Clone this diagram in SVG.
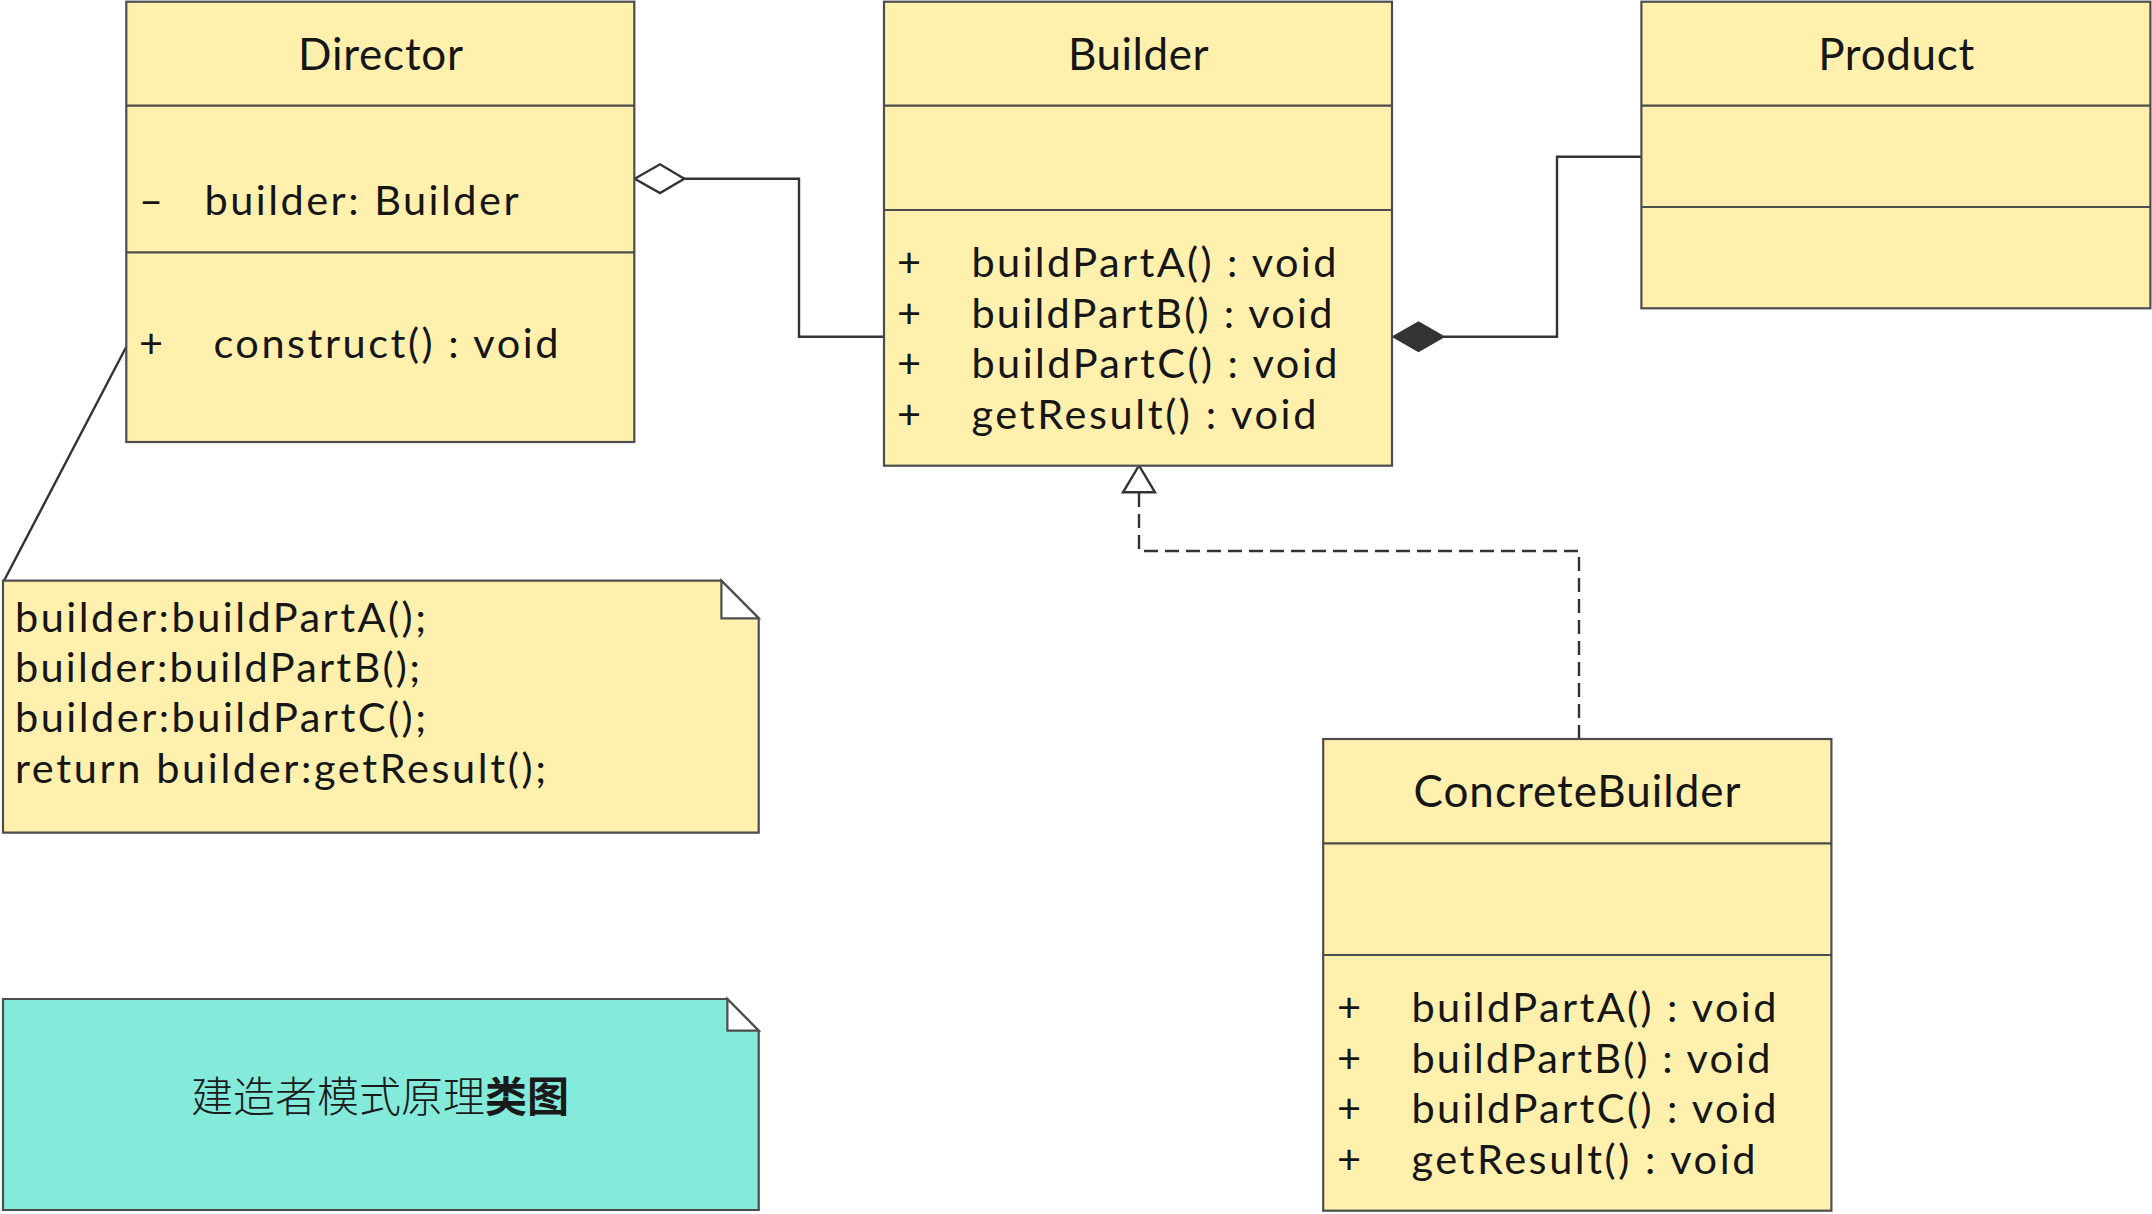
<svg xmlns="http://www.w3.org/2000/svg" width="2152" height="1214" viewBox="0 0 2152 1214">
<style>
.box{fill:#FFF1AD;stroke:#4d4d4d;stroke-width:2.2}
.div{stroke:#4d4d4d;stroke-width:2.2;fill:none}
.t{font-family:Lato,"Open Sans","DejaVu Sans",sans-serif;font-size:41.5px;fill:#161616}
.title{font-size:44px;text-anchor:middle}
.ln{fill:none;stroke:#333333;stroke-width:2.4}
.dash{stroke-dasharray:14 7}
.cjk{font-family:"Noto Sans CJK SC","Noto Sans",sans-serif;font-size:42px;fill:#1a1a1a}
</style>
<rect width="2152" height="1214" fill="#ffffff"/>
<g id="connectors">
  <polyline class="ln" points="684,178.7 799,178.7 799,336.7 884,336.7"/>
  <polygon class="ln" fill="#ffffff" points="634.7,178.7 660,164.3 684.3,178.7 660,193"/>
  <polyline class="ln" points="1444,336.7 1557,336.7 1557,156.7 1641,156.7"/>
  <polygon fill="#333333" stroke="#333333" stroke-width="1.5" points="1393,336.7 1418.5,322 1444,336.7 1418.5,351.5"/>
  <polyline class="ln dash" points="1579,739 1579,551 1139,551 1139,492.3"/>
  <polygon class="ln" fill="#ffffff" points="1139,465.5 1155,492.3 1123,492.3"/>
  <line class="ln" x1="126.3" y1="346.7" x2="4" y2="580.7" stroke-width="2"/>
</g>
<g id="director">
  <rect class="box" x="126.3" y="1.7" width="508" height="440.3"/>
  <line class="div" x1="126.3" y1="105.7" x2="634.3" y2="105.7"/>
  <line class="div" x1="126.3" y1="252.3" x2="634.3" y2="252.3"/>
  <text class="t title" x="380.6" y="70" textLength="165" lengthAdjust="spacing">Director</text>
  <text class="t" x="139" y="215">–</text>
  <text class="t" x="204.5" y="215" textLength="314" lengthAdjust="spacing">builder: Builder</text>
  <text class="t" x="139" y="358">+</text>
  <text class="t" x="213.4" y="358" textLength="345" lengthAdjust="spacing">construct() : void</text>
</g>
<g id="builder">
  <rect class="box" x="884" y="1.7" width="508" height="464"/>
  <line class="div" x1="884" y1="105.7" x2="1392" y2="105.7"/>
  <line class="div" x1="884" y1="210" x2="1392" y2="210"/>
  <text class="t title" x="1138.2" y="70" textLength="140.6" lengthAdjust="spacing">Builder</text>
  <text class="t" x="897" y="277">+</text>
  <text class="t" x="971.4" y="277" textLength="365" lengthAdjust="spacing">buildPartA() : void</text>
  <text class="t" x="897" y="327.5">+</text>
  <text class="t" x="971.4" y="327.5" textLength="361" lengthAdjust="spacing">buildPartB() : void</text>
  <text class="t" x="897" y="378">+</text>
  <text class="t" x="971.4" y="378" textLength="366" lengthAdjust="spacing">buildPartC() : void</text>
  <text class="t" x="897" y="428.5">+</text>
  <text class="t" x="971.4" y="428.5" textLength="345" lengthAdjust="spacing">getResult() : void</text>
</g>
<g id="product">
  <rect class="box" x="1641.4" y="1.7" width="509" height="306.6"/>
  <line class="div" x1="1641.4" y1="105.7" x2="2150.4" y2="105.7"/>
  <line class="div" x1="1641.4" y1="207" x2="2150.4" y2="207"/>
  <text class="t title" x="1896.2" y="70" textLength="156" lengthAdjust="spacing">Product</text>
</g>
<g id="concretebuilder">
  <rect class="box" x="1323.2" y="739" width="508.2" height="471.7"/>
  <line class="div" x1="1323.2" y1="843.3" x2="1831.4" y2="843.3"/>
  <line class="div" x1="1323.2" y1="955" x2="1831.4" y2="955"/>
  <text class="t title" x="1577" y="807" textLength="327" lengthAdjust="spacing">ConcreteBuilder</text>
  <text class="t" x="1337" y="1021.7">+</text>
  <text class="t" x="1411.4" y="1021.7" textLength="365" lengthAdjust="spacing">buildPartA() : void</text>
  <text class="t" x="1337" y="1072.5">+</text>
  <text class="t" x="1411.4" y="1072.5" textLength="359" lengthAdjust="spacing">buildPartB() : void</text>
  <text class="t" x="1337" y="1123.3">+</text>
  <text class="t" x="1411.4" y="1123.3" textLength="365" lengthAdjust="spacing">buildPartC() : void</text>
  <text class="t" x="1337" y="1174">+</text>
  <text class="t" x="1411.4" y="1174" textLength="344" lengthAdjust="spacing">getResult() : void</text>
</g>
<g id="note-code">
  <polygon class="box" points="3,580.7 721.4,580.7 758.7,618.3 758.7,832.7 3,832.7"/>
  <polygon class="box" style="fill:#ffffff" points="721.4,580.7 758.7,618.3 721.4,618.3"/>
  <text class="t" x="15" y="631.7" textLength="411" lengthAdjust="spacing">builder:buildPartA();</text>
  <text class="t" x="15" y="682" textLength="405" lengthAdjust="spacing">builder:buildPartB();</text>
  <text class="t" x="15" y="732.4" textLength="411" lengthAdjust="spacing">builder:buildPartC();</text>
  <text class="t" x="15" y="782.8" textLength="531" lengthAdjust="spacing">return builder:getResult();</text>
</g>
<g id="note-title">
  <polygon class="box" style="fill:#84EBDB" points="3,999 727.4,999 758.7,1030.7 758.7,1210 3,1210"/>
  <polygon class="box" style="fill:#ffffff" points="727.4,999 758.7,1030.7 727.4,1030.7"/>
  <text class="cjk" x="380" y="1112" text-anchor="middle"><tspan font-weight="300">建造者模式原理</tspan><tspan font-weight="700">类图</tspan></text>
</g>
</svg>
